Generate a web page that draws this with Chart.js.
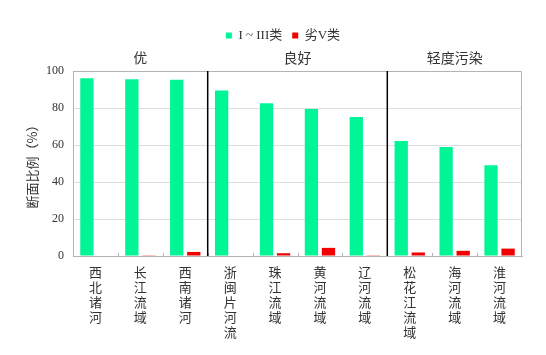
<!DOCTYPE html>
<html><head><meta charset="utf-8">
<script src="https://cdn.jsdelivr.net/npm/chart.js@4/dist/chart.umd.min.js"></script>
<style>html,body{margin:0;padding:0;background:#fff;}canvas{display:block}</style>
</head><body>
<canvas id="c" width="546" height="355"></canvas>
<script>
const categories = ['西北诸河','长江流域','西南诸河','浙闽片河流','珠江流域','黄河流域','辽河流域','松花江流域','海河流域','淮河流域'];
const goodValues = [96.1, 95.5, 95.3, 89.4, 82.6, 79.5, 75.2, 62.1, 58.9, 49.0];
const worstValues = [0, 0.4, 2.2, 0, 1.5, 4.4, 0.4, 1.9, 2.8, 4.0];
const seriesNames = ['I ~ III类', '劣V类'];
const groupNames = ['优', '良好', '轻度污染'];
const groupCenters = [1, 4.5, 8];
const groupBoundaries = [2.5, 6.5];
const yMin = 0, yMax = 100, yStep = 20;
const yTitle = '断面比例（%）';

const GREEN = 'rgb(0,245,150)';
const RED = 'rgb(240,0,0)';
const CJK = "'Noto Sans CJK SC', 'Noto Sans', sans-serif";

const decor = {
  id: 'decor',
  afterDatasetsDraw(chart) {
    const {ctx, chartArea: a, scales: {x2}} = chart;
    ctx.save();
    ctx.strokeStyle = '#b4b4b4';
    ctx.lineWidth = 1;
    ctx.beginPath();
    ctx.moveTo(a.left, a.top + 0.5);
    ctx.lineTo(a.right - 0.5, a.top + 0.5);
    ctx.lineTo(a.right - 0.5, a.bottom);
    ctx.stroke();
    for (let i = 0; i < categories.length - 1; i++) {
      const px = Math.round(x2.getPixelForValue(i + 0.5)) + 0.5;
      ctx.beginPath();
      ctx.moveTo(px, a.bottom);
      ctx.lineTo(px, a.bottom - 3);
      ctx.stroke();
    }
    ctx.strokeStyle = '#000';
    ctx.lineWidth = 1.5;
    groupBoundaries.forEach(v => {
      const px = x2.getPixelForValue(v);
      ctx.beginPath();
      ctx.moveTo(px, a.top);
      ctx.lineTo(px, a.bottom);
      ctx.stroke();
    });
    ctx.fillStyle = '#333';
    ctx.font = "14px " + CJK;
    ctx.textAlign = 'center';
    ctx.textBaseline = 'middle';
    groupNames.forEach((g, i) => {
      ctx.fillText(g, x2.getPixelForValue(groupCenters[i]), a.top - 13);
    });
    ctx.restore();
  }
};

new Chart(document.getElementById('c'), {
  type: 'bar',
  data: {
    labels: categories.map(s => s.split('')),
    datasets: [
      {label: seriesNames[0], data: goodValues, backgroundColor: GREEN, borderWidth: 0},
      {label: seriesNames[1], data: worstValues, backgroundColor: RED, borderWidth: 0}
    ]
  },
  options: {
    responsive: false,
    animation: false,
    devicePixelRatio: 1,
    categoryPercentage: 0.76,
    barPercentage: 0.78,
    layout: {padding: {left: 44, right: 24, top: 19, bottom: 0}},
    plugins: {
      legend: {
        position: 'top',
        labels: {
          boxWidth: 6, boxHeight: 6, padding: 10,
          color: '#333',
          font: {family: "'Liberation Serif', 'Noto Sans CJK SC', serif", size: 13}
        }
      },
      tooltip: {enabled: false}
    },
    scales: {
      x: {
        type: 'category',
        offset: true,
        grid: {display: false},
        border: {display: true, color: '#b4b4b4'},
        ticks: {
          color: '#333', autoSkip: false, maxRotation: 0, padding: 1,
          font: {family: CJK, size: 13, lineHeight: 1.15}
        },
        afterFit(s) { s.height = 99; }
      },
      x2: {
        type: 'linear',
        position: 'top',
        offset: false,
        min: -0.5, max: 9.5,
        grid: {display: false, offset: false},
        border: {display: false},
        ticks: {display: false},
        afterFit(s) { s.height = 19; }
      },
      y: {
        min: yMin, max: yMax,
        grid: {color: '#dedede', drawTicks: false},
        border: {display: true, color: '#b4b4b4'},
        ticks: {
          stepSize: yStep, padding: 9, color: '#333',
          font: {family: "'Liberation Serif', serif", size: 12}
        },
        title: {
          display: true, text: yTitle, color: '#333',
          font: {family: CJK, size: 13},
          padding: {top: -20, bottom: 0}
        },
        afterFit(s) { s.width = 29; }
      }
    }
  },
  plugins: [decor]
});
</script>
</body></html>
